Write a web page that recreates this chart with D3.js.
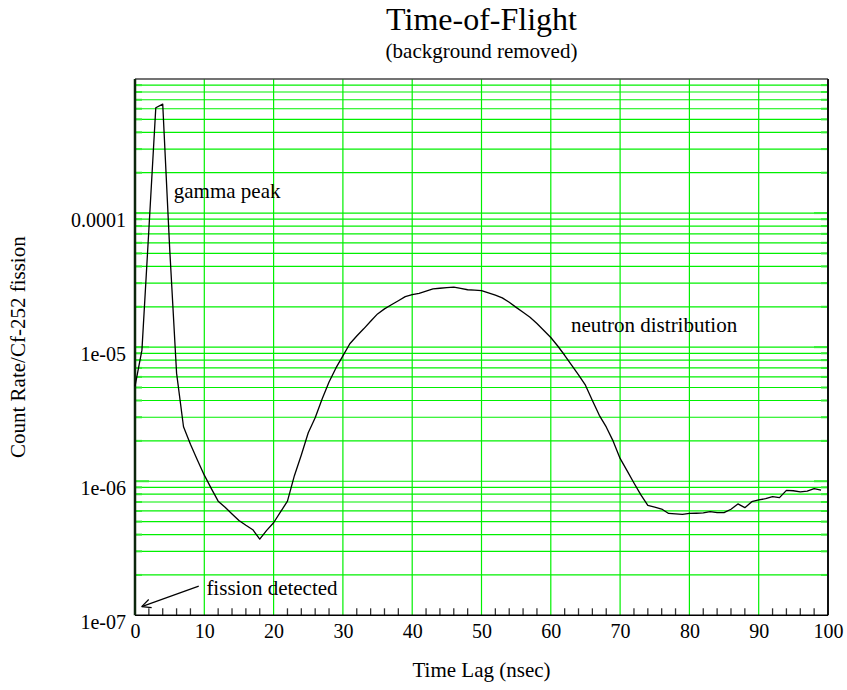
<!DOCTYPE html>
<html><head><meta charset="utf-8">
<script src="https://cdn.jsdelivr.net/npm/d3@7"></script>
<style>
body{margin:0;background:#fff}
svg{display:block}
text{font-family:"Liberation Serif","Times New Roman",Times,serif;fill:#000}
</style>
</head><body><svg id="chart" width="847" height="690"></svg>
<script>
// ---- data ----
const timeLag = [0,1,2,3,4,5,6,7,8,9,10,11,12,13,14,15,16,17,18,19,20,21,22,23,24,25,26,27,28,29,30,31,32,33,34,35,36,37,38,39,40,41,42,43,44,45,46,47,48,49,50,51,52,53,54,55,56,57,58,59,60,61,62,63,64,65,66,67,68,69,70,71,72,73,74,75,76,77,78,79,80,81,82,83,84,85,86,87,88,89,90,91,92,93,94,95,96,97,98,99];
const countRate = [
  5.1e-6, 9.5e-6, 7.5e-5, 6.1e-4, 6.5e-4, 5.5e-5, 6.4e-6, 2.55e-6, 1.89e-6, 1.44e-6,
  1.11e-6, 8.85e-7, 7.1e-7, 6.4e-7, 5.7e-7, 5.1e-7, 4.7e-7, 4.35e-7, 3.7e-7, 4.3e-7,
  4.9e-7, 5.9e-7, 7.1e-7, 1.1e-6, 1.57e-6, 2.3e-6, 2.97e-6, 4.1e-6, 5.5e-6, 7.0e-6,
  8.6e-6, 1.06e-5, 1.21e-5, 1.37e-5, 1.56e-5, 1.77e-5, 1.93e-5, 2.07e-5, 2.22e-5, 2.38e-5,
  2.46e-5, 2.52e-5, 2.62e-5, 2.72e-5, 2.75e-5, 2.78e-5, 2.80e-5, 2.74e-5, 2.68e-5, 2.66e-5,
  2.64e-5, 2.54e-5, 2.44e-5, 2.33e-5, 2.16e-5, 1.98e-5, 1.82e-5, 1.67e-5, 1.50e-5, 1.33e-5,
  1.18e-5, 1.02e-5, 8.7e-6, 7.35e-6, 6.2e-6, 5.2e-6, 4.0e-6, 3.1e-6, 2.54e-6, 1.99e-6,
  1.48e-6, 1.2e-6, 9.7e-7, 7.9e-7, 6.6e-7, 6.4e-7, 6.2e-7, 5.75e-7, 5.7e-7, 5.65e-7,
  5.75e-7, 5.77e-7, 5.8e-7, 5.93e-7, 5.83e-7, 5.83e-7, 6.18e-7, 6.77e-7, 6.35e-7, 7.03e-7,
  7.25e-7, 7.41e-7, 7.67e-7, 7.55e-7, 8.54e-7, 8.49e-7, 8.32e-7, 8.44e-7, 8.79e-7, 8.59e-7
];
const xTickValues = [0,10,20,30,40,50,60,70,80,90,100];
const xTickLabels = ["0","10","20","30","40","50","60","70","80","90","100"];
const xMinorTicks = [2,4,6,8,12,14,16,18,22,24,26,28,32,34,36,38,42,44,46,48,52,54,56,58,62,64,66,68,72,74,76,78,82,84,86,88,92,94,96,98];
const yTickValues = [1e-7,1e-6,1e-5,1e-4];
const yTickLabels = ["1e-07","1e-06","1e-05","0.0001"];
const yDomain = [1e-7,1e-3];
const xDomain = [0,100];
const titleText = "Time-of-Flight";
const subtitleText = "(background removed)";
const xTitle = "Time Lag (nsec)";
const yTitle = "Count Rate/Cf-252 fission";
const labelNotes = [
  {text:"gamma peak", t:5.6, v:1.30e-4},
  {text:"neutron distribution", t:62.9, v:1.29e-5},
  {text:"fission detected", t:10.3, v:1.42e-7}
];
const arrowNote = {from:{t:9.2, v:1.65e-7}, to:{t:0.97, v:1.16e-7}};

// ---- layout ----
const W = 847, H = 690;
const m = {left:135, right:847-828, top:79, bottom:690-615.3};
const svg = d3.select("#chart");
const x = d3.scaleLinear().domain(xDomain).range([m.left, W - m.right]);
const y = d3.scaleLog().domain(yDomain).range([H - m.bottom, m.top]);

const green = "#00f000";

// horizontal grid (every 1..9 x decade)
const gridY = y.ticks().filter(v => v > yDomain[0] && v < yDomain[1]);
svg.append("g").selectAll("line").data(gridY).join("line")
  .attr("x1", x(0)).attr("x2", x(100))
  .attr("y1", d => y(d)).attr("y2", d => y(d))
  .attr("stroke", green).attr("stroke-width", 1.2);

// vertical grid
svg.append("g").selectAll("line").data(xTickValues.filter(v => v > 0 && v < 100)).join("line")
  .attr("x1", d => x(d)).attr("x2", d => x(d))
  .attr("y1", y(yDomain[0])).attr("y2", y(yDomain[1]))
  .attr("stroke", green).attr("stroke-width", 1.2);

// y ticks (green) on left and right
const isMajor = v => Math.abs(Math.log10(v) - Math.round(Math.log10(v))) < 1e-6;
svg.append("g").selectAll("line").data(gridY).join("line")
  .attr("x1", x(0)).attr("x2", d => x(0) + (isMajor(d) ? 14 : 7))
  .attr("y1", d => y(d)).attr("y2", d => y(d))
  .attr("stroke", "#33ee33").attr("stroke-width", 2);
svg.append("g").selectAll("line").data(gridY).join("line")
  .attr("x1", x(100)).attr("x2", d => x(100) - (isMajor(d) ? 14 : 7))
  .attr("y1", d => y(d)).attr("y2", d => y(d))
  .attr("stroke", "#33ee33").attr("stroke-width", 2);

// bottom minor ticks
svg.append("g").selectAll("line").data(xMinorTicks).join("line")
  .attr("x1", d => x(d)).attr("x2", d => x(d))
  .attr("y1", y(yDomain[0])).attr("y2", y(yDomain[0]) - 7)
  .attr("stroke", "#333").attr("stroke-width", 1.3);

// frame
svg.append("line").attr("x1", x(0)).attr("x2", x(100)).attr("y1", y(1e-3)).attr("y2", y(1e-3))
  .attr("stroke", "#444").attr("stroke-width", 1.5);
svg.append("line").attr("x1", x(100)).attr("x2", x(100)).attr("y1", y(1e-3)).attr("y2", y(1e-7))
  .attr("stroke", "#111").attr("stroke-width", 2);
svg.append("line").attr("x1", x(0)).attr("x2", x(100)).attr("y1", y(1e-7)).attr("y2", y(1e-7))
  .attr("stroke", "#000").attr("stroke-width", 1.5);
svg.append("line").attr("x1", x(0)).attr("x2", x(0)).attr("y1", y(1e-3)).attr("y2", y(1e-7))
  .attr("stroke", "#0c260c").attr("stroke-width", 2.5);

// tick labels via axes
const xAxis = d3.axisBottom(x).tickValues(xTickValues)
  .tickFormat((d,i) => xTickLabels[i]).tickSize(0).tickPadding(0);
const gx = svg.append("g").attr("transform", `translate(0,${y(1e-7)})`).call(xAxis);
gx.select(".domain").remove();
gx.selectAll("text").attr("y", 23).attr("dy", null)
  .style("font-family", '"Liberation Serif","Times New Roman",serif').style("font-size", "20px").attr("fill", "#000");

const yAxis = d3.axisLeft(y).tickValues(yTickValues)
  .tickFormat((d,i) => yTickLabels[i]).tickSize(0).tickPadding(0);
const gy = svg.append("g").attr("transform", `translate(${x(0)},0)`).call(yAxis);
gy.select(".domain").remove();
gy.selectAll("text").attr("x", -9).attr("dy", "0.36em").attr("transform", "translate(0,6)")
  .style("font-family", '"Liberation Serif","Times New Roman",serif').style("font-size", "20px").attr("fill", "#000");

// data line
const line = d3.line().x((d,i) => x(timeLag[i])).y(d => y(d));
svg.append("path").datum(countRate).attr("d", line)
  .attr("fill", "none").attr("stroke", "#000").attr("stroke-width", 1.3).attr("stroke-linejoin", "round");

// annotations
svg.append("g").selectAll("text").data(labelNotes).join("text")
  .attr("x", d => x(d.t)).attr("y", d => y(d.v))
  .style("font-size", "21px").text(d => d.text);

const ax1 = x(arrowNote.from.t), ay1 = y(arrowNote.from.v);
const ax2 = x(arrowNote.to.t), ay2 = y(arrowNote.to.v);
svg.append("line").attr("x1", ax1).attr("y1", ay1).attr("x2", ax2).attr("y2", ay2)
  .attr("stroke", "#000").attr("stroke-width", 1.2);
const ang = Math.atan2(ay1 - ay2, ax1 - ax2);
[ -0.45, 0.45 ].forEach(da => {
  svg.append("line").attr("x1", ax2).attr("y1", ay2)
    .attr("x2", ax2 + 10 * Math.cos(ang + da)).attr("y2", ay2 + 10 * Math.sin(ang + da))
    .attr("stroke", "#000").attr("stroke-width", 1.2);
});

// titles
const cx = (x(0) + x(100)) / 2;
svg.append("text").attr("x", cx).attr("y", 30).attr("text-anchor", "middle")
  .style("font-size", "32px").text(titleText);
svg.append("text").attr("x", cx).attr("y", 58).attr("text-anchor", "middle")
  .style("font-size", "21px").text(subtitleText);
svg.append("text").attr("x", cx).attr("y", 677).attr("text-anchor", "middle")
  .style("font-size", "21px").text(xTitle);
svg.append("text").attr("transform", `translate(25,${(y(1e-3) + y(1e-7)) / 2}) rotate(-90)`)
  .attr("text-anchor", "middle").style("font-size", "21px").text(yTitle);
</script>
</body></html>
